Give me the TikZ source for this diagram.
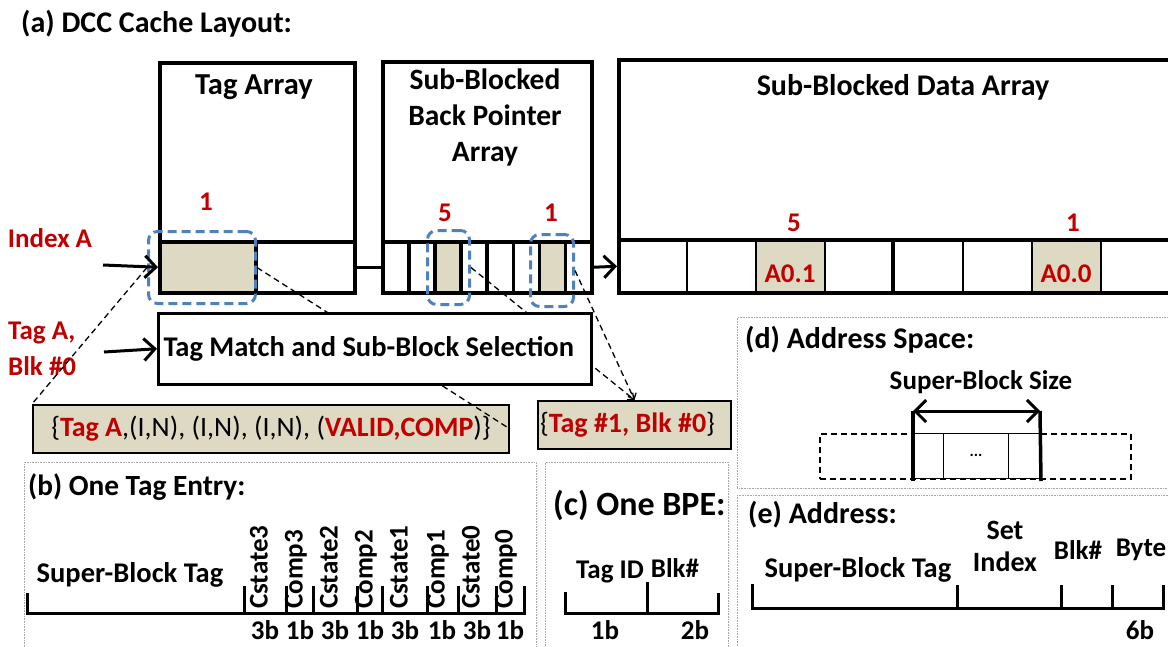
\documentclass[tikz,border=0pt]{standalone}
\usepackage{fontspec}
\setmainfont{Carlito}
\usetikzlibrary{arrows.meta, positioning}
\definecolor{dcc_red}{HTML}{C00000}
\definecolor{dcc_blue}{HTML}{4F81BD}
\definecolor{dcc_tan}{HTML}{DDD9C3}
\definecolor{dcc_gray}{HTML}{A6A6A6}

\begin{document}
\begin{tikzpicture}[
    x=1pt, y=-1pt,
    font=\fontsize{27}{36}\selectfont\bfseries,
    every node/.style={inner sep=0pt},
    head/.style={font=\fontsize{30}{36}\selectfont\bfseries},
    box/.style={draw, line width=3.5pt, anchor=north west},
    cell/.style={draw, line width=3.5pt, anchor=north west, minimum height=51},
    dcell/.style={draw, line width=1.5pt, anchor=north west, minimum width=69, minimum height=51},
    num/.style={text=dcc_red},
    bits/.style={anchor=base, text depth=0pt},
    sel/.style={draw=dcc_blue, line width=3pt, dash pattern=on 9pt off 5pt, rounded corners=9pt, anchor=north west},
    link/.style={line width=1.3pt, dash pattern=on 6pt off 4pt},
    tip/.style={-{Straight Barb[length=5pt, width=9pt, line width=1.3pt]}},
    arrow/.style={line width=3pt, -{Straight Barb[length=11pt, width=22pt]}},
    entry/.style={draw, line width=2pt, fill=dcc_tan, anchor=north west},
    panel/.style={draw=dcc_gray, line width=0.8pt, dash pattern=on 0.8pt off 0.8pt, anchor=north west},
    brk/.style={line width=3pt},
    vlbl/.style={rotate=90, anchor=west, text height=0.7em, text depth=0.2em}
]
\useasboundingbox (0,0) rectangle (1168,646);

% Panels
\node[panel, minimum width=512, minimum height=200] (pan_b) at (24,462) {};
\node[panel, minimum width=183, minimum height=200] (pan_c) at (545,462) {};
\node[panel, minimum width=440, minimum height=171] (pan_d) at (737,317) {};
\node[panel, minimum width=440, minimum height=170] (pan_e) at (737,495) {};

% (a) Cache layout
\node[head, anchor=west] (title_a) at (21,24) {(a) DCC Cache Layout:};

% Tag array
\node[cell, fill=dcc_tan, minimum width=96] (tag_c0) at (158,240) {};
\node[cell, minimum width=99] (tag_c1) at (254,240) {};
\node[box, minimum width=195, minimum height=230] (tag_arr) at (158,61) {};
\node[font=\fontsize{30.5}{36}\selectfont\bfseries] at (254,87) {Tag Array};
\node[num] at (206,202) {1};

% Back pointer array
\foreach \i/\f in {0/white,1/white,2/dcc_tan,3/white,4/white,5/white,6/dcc_tan,7/white}
  \node[cell, fill=\f, minimum width=26.1] (bpe_c\i) at ({381+\i*26.1},240) {};
\node[box, minimum width=209, minimum height=231] (bpe_arr) at (381,60) {};
\node[align=center, font=\fontsize{29.5}{36}\selectfont\bfseries] at (485,117) {Sub-Blocked\\Back Pointer\\Array};
\node[num] at (445,213) {5};
\node[num] at (551,213) {1};

% Data array
\foreach \i/\f in {0/white,1/white,2/dcc_tan,3/white,4/white,5/white,6/dcc_tan,7/white}
  \node[dcell, fill=\f] (dat_c\i) at ({617+\i*69},240) {};
\node[box, minimum width=600, minimum height=233] (dat_arr) at (617,58) {};
\draw[line width=3.5pt] (dat_c0.north west) -- (dat_c7.north east);
\draw[line width=3.5pt] (dat_c4.north west) -- (dat_c4.south west);
\node[head] at (903,87) {Sub-Blocked Data Array};
\node[num] at (794,223) {5};
\node[num] at (1073,223) {1};
\node[num, anchor=base] at (790,282) {A0.1};
\node[num, anchor=base] at (1066,282) {A0.0};

% Selections
\node[sel, minimum width=107, minimum height=72] (sel_tag) at (147,230) {};
\node[sel, minimum width=42, minimum height=74] (sel_5) at (426,229) {};
\node[sel, minimum width=43, minimum height=72] (sel_1) at (529,233) {};

% Inputs
\node[num] (idx_a) at (50,238) {Index A};
\node[num, align=left, anchor=west] (tag_a) at (8,349) {Tag A,\\Blk \#0};
\coordinate (idx_in) at (103,265);
\coordinate (tag_in) at (104,352);
\draw[arrow] (idx_in) -- (tag_c0.west);
\draw[line width=3.5pt] (tag_c1.east) -- (bpe_c0.west);
\draw[arrow] (bpe_c7.east) -- (dat_c0.west);

% Entries
\node[entry, minimum width=476, minimum height=48] (tag_ent) at (32,404) {};
\node[font=\fontsize{28}{36}\selectfont\bfseries] at (tag_ent.center) {\mdseries\{\textcolor{dcc_red}{\bfseries Tag A},(I,N), (I,N), (I,N), (\textcolor{dcc_red}{\bfseries VALID,COMP})\}};
\node[entry, minimum width=193, minimum height=48] (bpe_ent) at (537,400) {};
\node[font=\fontsize{28}{36}\selectfont\bfseries] at ([xshift=-7pt]bpe_ent.center) {\mdseries\{\textcolor{dcc_red}{\bfseries Tag \#1, Blk \#0}\}};

% Links
\draw[link] (sel_tag.west) -- (tag_ent.north west);
\draw[link] (sel_tag.east) -- (tag_ent.east);
\draw[link, tip] (sel_5.east) -- (bpe_ent.north);
\draw[link, tip] (sel_1.east) -- (bpe_ent.north);

% Tag match
\node[draw, line width=2.5pt, fill=white, anchor=north west, minimum width=433, minimum height=71] (match) at (157,312) {};
\node[font=\fontsize{28.5}{36}\selectfont\bfseries] at ([xshift=-6pt]match.center) {Tag Match and Sub-Block Selection};
\draw[arrow] (tag_in) -- (match.west);

% (b) One tag entry
\node[font=\fontsize{29.3}{36}\selectfont\bfseries, anchor=west] at (28,487) {(b) One Tag Entry:};
\node[font=\fontsize{28.5}{36}\selectfont\bfseries] at (130,575) {Super-Block Tag};
\draw[brk] (27,593) -- (27,613) -- (524,613) -- (524,586);
\foreach \x in {244,286,313.5,357,382.5,427,458,496}
  \draw[brk] (\x,586) -- (\x,613);
\foreach \x/\t/\b in {265/Cstate3/3b, 300/Comp3/1b, 335/Cstate2/3b, 370/Comp2/1b, 405/Cstate1/3b, 442/Comp1/1b, 477/Cstate0/3b, 510/Comp0/1b} {
  \node[vlbl] at (\x,609) {\t};
  \node[bits] at (\x,639) {\b};
}

% (c) One BPE
\node[font=\fontsize{34}{40}\selectfont\bfseries, anchor=west] at (553,505) {(c) One BPE:};
\draw[brk] (565,592) -- (565,613) -- (718,613) -- (718,593);
\draw[brk] (647,582) -- (647,613);
\node at (610,572) {Tag ID};
\node at (675,568) {Blk\#};
\node[bits] at (605,639) {1b};
\node[bits] at (695,639) {2b};

% (d) Address space
\node[head, anchor=west] at (745,340) {(d) Address Space:};
\node at (981,382) {Super-Block Size};
\node[draw, line width=1.5pt, dash pattern=on 6pt off 4pt, anchor=north west, minimum width=311, minimum height=45] (sb_space) at (819,433) {};
\node[draw, line width=1pt, fill=white, anchor=north west, minimum width=30, minimum height=45] (sb_c0) at (913,433) {};
\node[draw, line width=1pt, fill=white, anchor=north west, minimum width=65, minimum height=45] (sb_c1) at (943,433) {};
\node[draw, line width=1pt, fill=white, anchor=north west, minimum width=32, minimum height=45] (sb_c2) at (1008,433) {};
\node[font=\fontsize{16}{16}\selectfont\bfseries, anchor=base] at (sb_c1.center) {...};
\coordinate (sb_l) at (913,411);
\coordinate (sb_r) at (1040,411);
\draw[line width=3.5pt] (sb_l) -- ([yshift=-2pt]sb_c0.south west);
\draw[line width=3.5pt] (sb_r) -- ([yshift=-2pt]sb_c2.south east);
\draw[line width=3pt, {Straight Barb[length=11pt, width=22pt]}-{Straight Barb[length=11pt, width=22pt]}] (sb_l) -- (sb_r);

% (e) Address
\node[head, anchor=west] at (748,515) {(e) Address:};
\draw[brk] (752,584) -- (752,608) -- (1163,608) -- (1163,585);
\foreach \x in {957,1061,1112}
  \draw[brk] (\x,585) -- (\x,608);
\node[font=\fontsize{28.5}{36}\selectfont\bfseries] at (858,570) {Super-Block Tag};
\node[align=center, font=\fontsize{28}{32}\selectfont\bfseries] at (1005,546) {Set\\Index};
\node at (1078,550) {Blk\#};
\node at (1141,550) {Byte};
\node[bits] at (1140,639) {6b};
\end{tikzpicture}
\end{document}
